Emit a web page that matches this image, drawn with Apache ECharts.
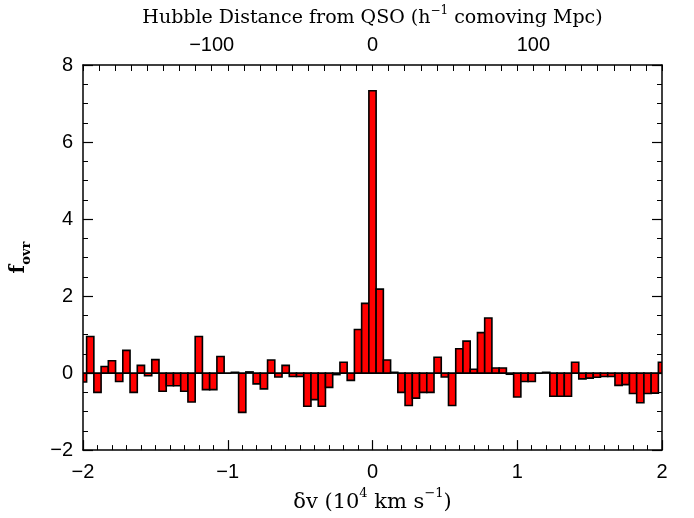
<!DOCTYPE html>
<html>
<head>
<meta charset="utf-8">
<script src="https://cdn.jsdelivr.net/npm/echarts@6/dist/echarts.min.js"></script>
<style>html,body{margin:0;padding:0;background:#fff}#c{width:694px;height:518px}</style>
</head>
<body>
<div id="c"></div>
<script>
// Bin centres (10^4 km/s)
const binCenters = [
 -2.00,-1.95,-1.90,-1.85,-1.80,-1.75,-1.70,-1.65,-1.60,-1.55,
 -1.50,-1.45,-1.40,-1.35,-1.30,-1.25,-1.20,-1.15,-1.10,-1.05,
 -1.00,-0.95,-0.90,-0.85,-0.80,-0.75,-0.70,-0.65,-0.60,-0.55,
 -0.50,-0.45,-0.40,-0.35,-0.30,-0.25,-0.20,-0.15,-0.10,-0.05,
  0.00, 0.05, 0.10, 0.15, 0.20, 0.25, 0.30, 0.35, 0.40, 0.45,
  0.50, 0.55, 0.60, 0.65, 0.70, 0.75, 0.80, 0.85, 0.90, 0.95,
  1.00, 1.05, 1.10, 1.15, 1.20, 1.25, 1.30, 1.35, 1.40, 1.45,
  1.50, 1.55, 1.60, 1.65, 1.70, 1.75, 1.80, 1.85, 1.90, 1.95,
  2.00
];
// f_ovr values
const fovr = [
 -0.23, 0.95,-0.50, 0.17, 0.32,-0.22, 0.59,-0.50, 0.20,-0.07,
  0.35,-0.47,-0.33,-0.33,-0.47,-0.75, 0.95,-0.43,-0.43, 0.43,
  0.00, 0.02,-1.02, 0.03,-0.28,-0.41, 0.34,-0.10, 0.20,-0.09,
 -0.09,-0.86,-0.69,-0.86,-0.37,-0.04, 0.28,-0.19, 1.13, 1.81,
  7.33, 2.18, 0.34, 0.02,-0.50,-0.84,-0.65,-0.50,-0.50, 0.41,
 -0.10,-0.84, 0.63, 0.83, 0.10, 1.05, 1.43, 0.13, 0.13,-0.03,
 -0.62,-0.22,-0.22, 0.00, 0.02,-0.60,-0.60,-0.60, 0.28,-0.15,
 -0.13,-0.11,-0.09,-0.09,-0.32,-0.30,-0.53,-0.77,-0.53,-0.52,
  0.28
];
const binWidth = 0.05;
const xTicksBottom = {min: -2, max: 2, interval: 1};
const xTicksTop = {min: -180, max: 180, interval: 10, labelEvery: 100};
const yTicks = {min: -2, max: 8, interval: 2};

const data = binCenters.map((x, i) => [x, fovr[i]]);
const minus = v => String(v).replace('-', '\u2212');
const labelFont = {fontFamily: 'Liberation Sans', fontSize: 20, color: '#000'};
const axisLineStyle = {color: '#000', width: 1.5};

const chart = echarts.init(document.getElementById('c'), null, {renderer: 'canvas'});
chart.setOption({
  animation: false,
  backgroundColor: '#fff',
  grid: {left: 83, right: 32, top: 65, bottom: 63},
  xAxis: [{
    type: 'value', position: 'bottom',
    min: xTicksBottom.min, max: xTicksBottom.max, interval: xTicksBottom.interval,
    axisLine: {show: true, onZero: false, lineStyle: axisLineStyle},
    axisTick: {show: true, inside: true, length: 10, lineStyle: {color: '#000', width: 1.2}},
    minorTick: {show: true, splitNumber: 10, length: 5, lineStyle: {color: '#000', width: 1}},
    splitLine: {show: false},
    axisLabel: Object.assign({margin: 12, formatter: v => minus(v)}, labelFont),
    name: '{a|\u03b4v (10}{s|4}{a| km s}{s|\u22121}{a|)}',
    nameLocation: 'middle', nameGap: 30,
    nameTextStyle: {rich: {
      a: {fontFamily: 'DejaVu Serif', fontSize: 21, color: '#000', lineHeight: 26, verticalAlign: 'bottom'},
      s: {fontFamily: 'DejaVu Serif', fontSize: 13, color: '#000', verticalAlign: 'top', lineHeight: 26}
    }}
  }, {
    type: 'value', position: 'top',
    min: xTicksTop.min, max: xTicksTop.max, interval: xTicksTop.interval,
    axisLine: {show: true, onZero: false, lineStyle: axisLineStyle},
    axisTick: {show: true, inside: true, length: 6, lineStyle: {color: '#000', width: 1}},
    splitLine: {show: false},
    axisLabel: Object.assign({margin: 10, formatter: v => (v % xTicksTop.labelEvery === 0 ? minus(v) : '')}, labelFont),
    name: '{a|Hubble Distance from QSO (h}{s|\u22121}{a| comoving Mpc)}',
    nameLocation: 'middle', nameGap: 37,
    nameTextStyle: {rich: {
      a: {fontFamily: 'DejaVu Serif', fontSize: 19, color: '#000', lineHeight: 23, verticalAlign: 'bottom'},
      s: {fontFamily: 'DejaVu Serif', fontSize: 12, color: '#000', verticalAlign: 'top', lineHeight: 23}
    }}
  }],
  yAxis: [{
    type: 'value', position: 'left',
    min: yTicks.min, max: yTicks.max, interval: yTicks.interval,
    axisLine: {show: true, onZero: false, lineStyle: axisLineStyle},
    axisTick: {show: true, inside: true, length: 10, lineStyle: {color: '#000', width: 1.2}},
    minorTick: {show: true, splitNumber: 4, length: 5, lineStyle: {color: '#000', width: 1}},
    splitLine: {show: false},
    axisLabel: Object.assign({margin: 10, formatter: v => minus(v)}, labelFont),
    name: '{f|f}{sub|ovr}',
    nameLocation: 'middle', nameGap: 50, nameRotate: 90,
    nameTextStyle: {rich: {
      f: {fontFamily: 'DejaVu Serif', fontWeight: 'bold', fontSize: 20, color: '#000', lineHeight: 24, verticalAlign: 'top'},
      sub: {fontFamily: 'DejaVu Serif', fontWeight: 'bold', fontSize: 13, color: '#000', lineHeight: 24, verticalAlign: 'bottom'}
    }}
  }, {
    type: 'value', position: 'right',
    min: yTicks.min, max: yTicks.max, interval: yTicks.interval,
    axisLine: {show: true, onZero: false, lineStyle: axisLineStyle},
    axisTick: {show: true, inside: true, length: 10, lineStyle: {color: '#000', width: 1.2}},
    minorTick: {show: true, splitNumber: 4, length: 5, lineStyle: {color: '#000', width: 1}},
    splitLine: {show: false},
    axisLabel: {show: false}
  }],
  series: [{
    type: 'custom',
    xAxisIndex: 0, yAxisIndex: 0,
    data: data,
    clip: true,
    renderItem: function (params, api) {
      const x = api.value(0), y = api.value(1);
      const pA = api.coord([x - binWidth / 2, y]);
      const pB = api.coord([x + binWidth / 2, 0]);
      const cs = params.coordSys;
      const x0 = Math.max(pA[0], cs.x), x1 = Math.min(pB[0], cs.x + cs.width);
      if (x1 <= x0) return null;
      const top = Math.min(pA[1], pB[1]);
      return {
        type: 'rect',
        shape: {x: x0, y: top, width: x1 - x0, height: Math.abs(pB[1] - pA[1])},
        style: {fill: '#ff0000', stroke: '#000', lineWidth: 1.6}
      };
    }
  }]
});
</script>
</body>
</html>
